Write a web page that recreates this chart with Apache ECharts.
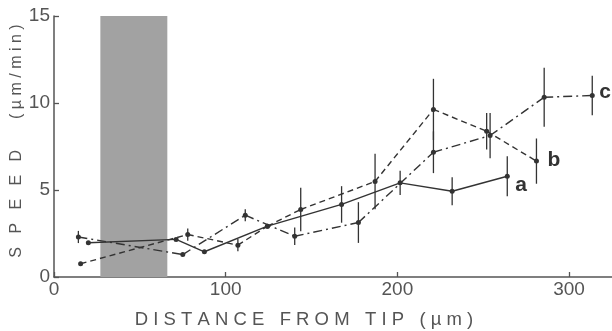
<!DOCTYPE html>
<html>
<head>
<meta charset="utf-8">
<script src="https://cdn.jsdelivr.net/npm/echarts@6/dist/echarts.min.js"></script>
<style>
  html, body { margin: 0; padding: 0; background: #fff; }
</style>
</head>
<body>
<div id="chart" style="width: 612px; height: 331px;"></div>
<script>
// curve a (solid)
const distA = [20.0, 71.1, 87.6, 124.3, 167.5, 201.6, 231.9, 264.0]
const speedA = [1.97, 2.16, 1.45, 2.92, 4.17, 5.41, 4.93, 5.79]
const errA = [0, 0, 0, 0, 1.05, 0.7, 0.8, 1.15]
// curve b (dashed)
const distB = [15.5, 77.9, 107.1, 124.3, 143.7, 187.0, 221.0, 252.0, 281.0]
const speedB = [0.76, 2.44, 1.83, 2.92, 3.88, 5.49, 9.63, 8.38, 6.66]
const errB = [0, 0.35, 0.35, 0, 1.25, 1.6, 1.76, 1.05, 1.3]
// curve c (dash-dot)
const distC = [14.2, 75.0, 111.4, 140.2, 177.3, 221.0, 254.0, 285.5, 313.5]
const speedC = [2.30, 1.29, 3.55, 2.34, 3.13, 7.17, 8.13, 10.33, 10.43]
const errC = [0.35, 0, 0.35, 0.5, 1.17, 1.2, 1.3, 1.7, 1.13]
// shaded zone
const band = [27, 66]
const xTicks = [0, 100, 200, 300]
const yTicks = [0, 5, 10, 15]

const ink = '#333'
const textGray = '#555'
const font = 'Liberation Sans'

function pts (xs, ys) {
  return xs.map((x, i) => [x, ys[i]])
}
function segs (xs, ys) {
  return xs.slice(1).map((x, i) => [xs[i], ys[i], x, ys[i + 1]])
}
function bars (xs, ys, es) {
  return xs.map((x, i) => [x, ys[i] - es[i], ys[i] + es[i]]).filter((d, i) => es[i] > 0)
}
function errSeries (xs, ys, es) {
  return {
    type: 'custom',
    data: bars(xs, ys, es),
    z: 5,
    clip: false,
    renderItem: function (params, api) {
      const lo = api.coord([api.value(0), api.value(1)])
      const hi = api.coord([api.value(0), api.value(2)])
      return {
        type: 'line',
        shape: { x1: lo[0], y1: lo[1], x2: hi[0], y2: hi[1] },
        style: { stroke: ink, lineWidth: 1.3 }
      }
    }
  }
}
// connecting segments, drawn on top of the grey zone
function segSeries (xs, ys, dash) {
  return {
    type: 'custom',
    data: segs(xs, ys),
    z: 5,
    clip: false,
    renderItem: function (params, api) {
      const p = api.coord([api.value(0), api.value(1)])
      const q = api.coord([api.value(2), api.value(3)])
      return {
        type: 'line',
        shape: { x1: p[0], y1: p[1], x2: q[0], y2: q[1] },
        style: { stroke: ink, lineWidth: 1.4, lineDash: dash }
      }
    }
  }
}
function pointSeries (name, xs, ys, offset) {
  return {
    name: name,
    type: 'line',
    data: pts(xs, ys),
    symbol: 'circle',
    symbolSize: 5,
    itemStyle: { color: ink },
    lineStyle: { opacity: 0 },
    z: 6,
    endLabel: {
      show: true,
      formatter: name,
      fontSize: 21,
      fontWeight: 'bold',
      fontFamily: font,
      color: ink,
      offset: offset
    }
  }
}

let myChart = echarts.init(document.getElementById('chart'))
myChart.setOption({
  animation: false,
  grid: { left: 54, right: 0, top: 16, bottom: 54 },
  xAxis: {
    type: 'value',
    min: 0,
    max: 325,
    interval: 100,
    axisLine: { lineStyle: { color: textGray, width: 1.5 } },
    axisTick: { inside: true, length: 5, lineStyle: { color: textGray, width: 1.3 } },
    axisLabel: {
      color: textGray,
      fontSize: 19,
      fontFamily: font,
      margin: 3,
      showMaxLabel: false,
      formatter: v => xTicks.indexOf(v) >= 0 ? String(v) : ''
    },
    splitLine: { show: false }
  },
  yAxis: {
    type: 'value',
    min: 0,
    max: 15,
    interval: 5,
    axisLine: { show: true, lineStyle: { color: textGray, width: 1.5 } },
    axisTick: { show: true, inside: true, length: 5, lineStyle: { color: textGray, width: 1.3 } },
    axisLabel: {
      color: textGray,
      fontSize: 19,
      fontFamily: font,
      margin: 4,
      formatter: v => yTicks.indexOf(v) >= 0 ? String(v) : ''
    },
    splitLine: { show: false }
  },
  graphic: [
    {
      type: 'text',
      x: 17,
      y: 141,
      rotation: Math.PI / 2,
      style: {
        text: 'S   P   E   E   D       ( µ m / m i n )',
        fontSize: 16,
        fontFamily: font,
        fill: textGray,
        align: 'center',
        verticalAlign: 'middle'
      }
    },
    {
      type: 'text',
      x: 304,
      y: 320,
      style: {
        text: 'D I S T A N C E   F R O M   T I P   ( µ m )',
        fontSize: 18.5,
        fontFamily: font,
        fill: textGray,
        align: 'center',
        verticalAlign: 'middle'
      }
    }
  ],
  series: [
    {
      // grey zone behind the curves
      type: 'custom',
      data: [[band[0], band[1]]],
      z: 1,
      silent: true,
      renderItem: function (params, api) {
        const p0 = api.coord([api.value(0), 15])
        const p1 = api.coord([api.value(1), 0])
        return {
          type: 'rect',
          shape: { x: p0[0], y: p0[1], width: p1[0] - p0[0], height: p1[1] - p0[1] },
          style: { fill: '#a2a2a2' }
        }
      }
    },
    segSeries(distA, speedA, null),
    segSeries(distB, speedB, [6, 4]),
    segSeries(distC, speedC, [9, 4, 2, 4]),
    errSeries(distA, speedA, errA),
    errSeries(distB, speedB, errB),
    errSeries(distC, speedC, errC),
    pointSeries('a', distA, speedA, [0, 9]),
    pointSeries('b', distB, speedB, [3, -1]),
    pointSeries('c', distC, speedC, [-1, -3])
  ]
})
</script>
</body>
</html>
